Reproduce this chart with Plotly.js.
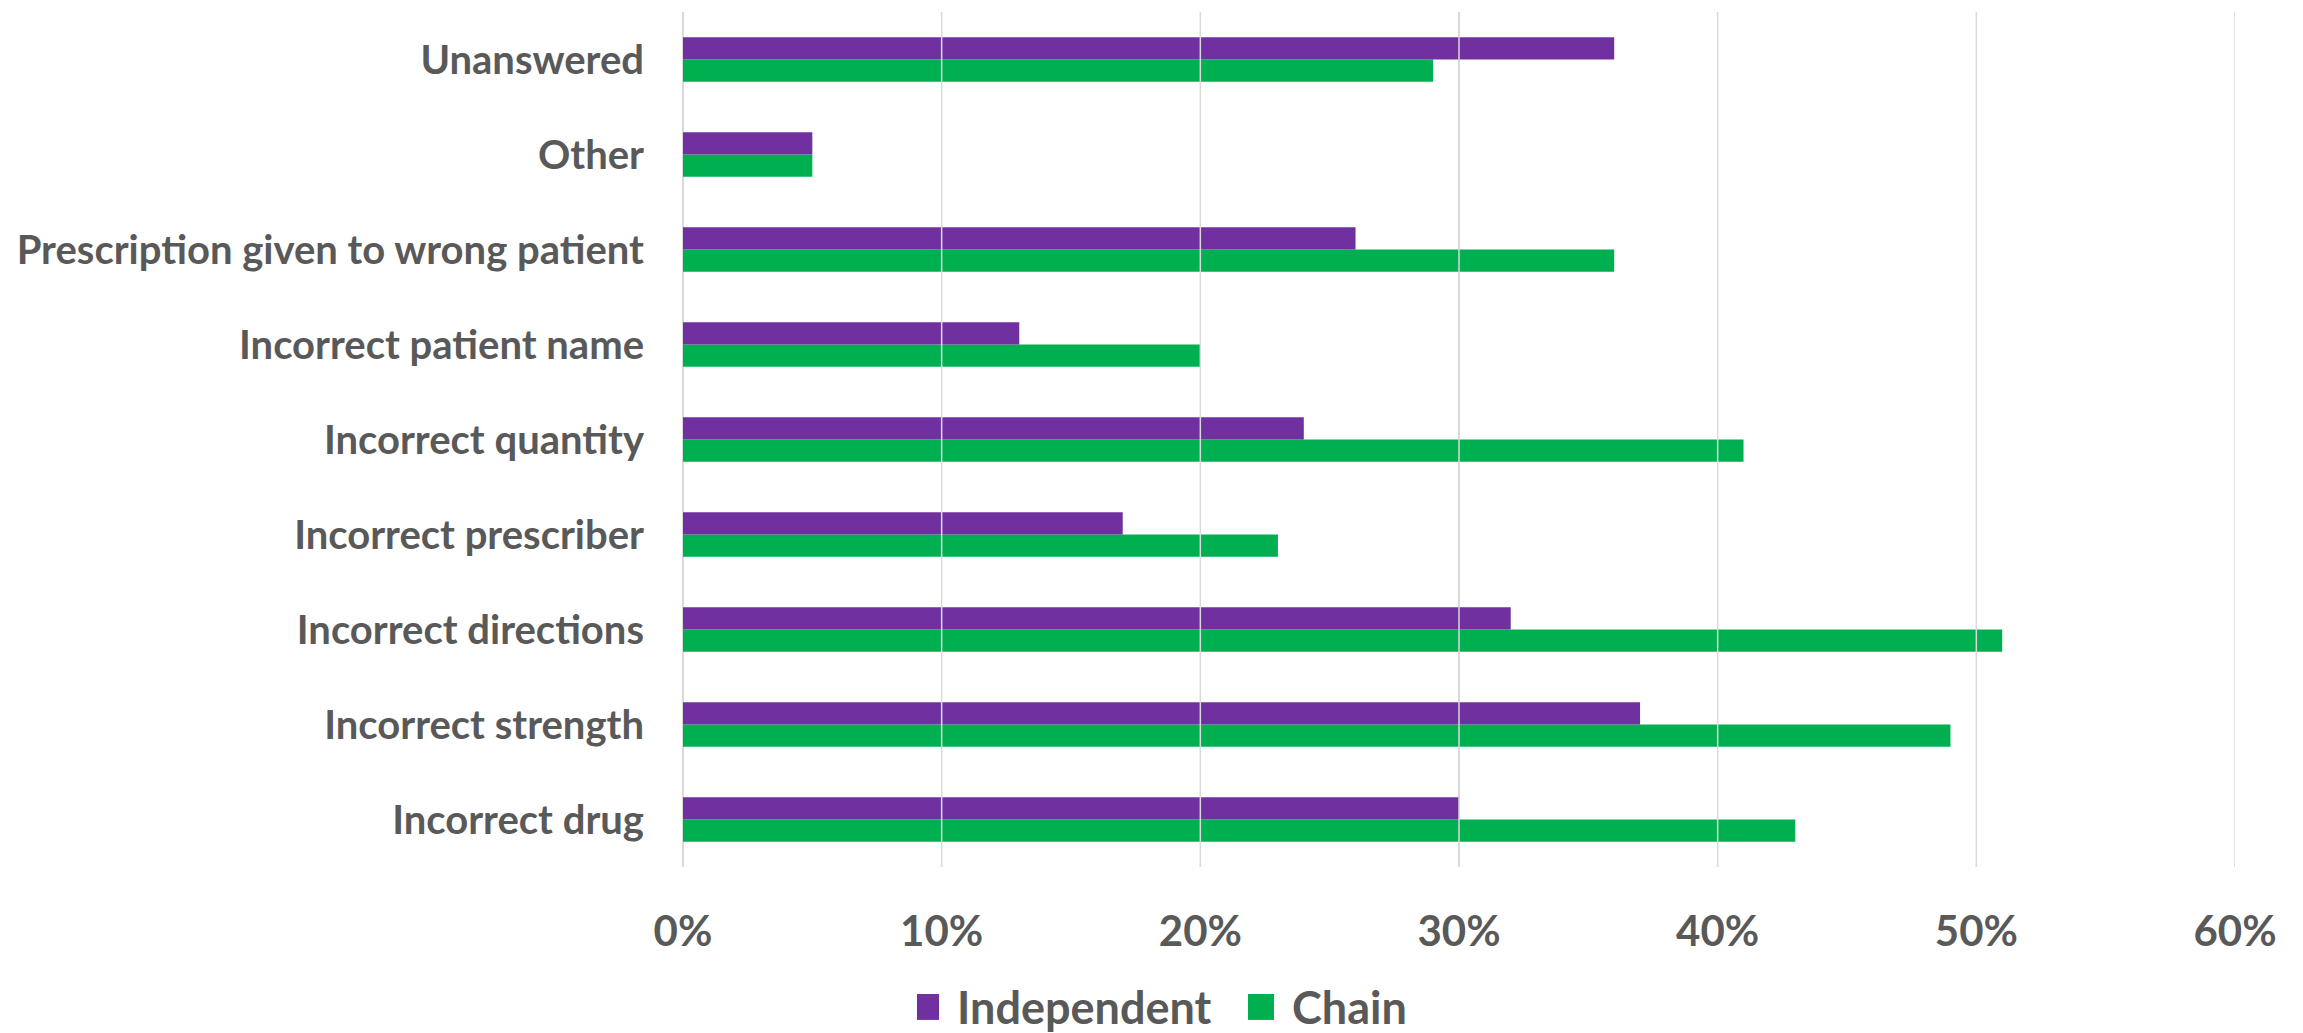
<!DOCTYPE html>
<html>
<head>
<meta charset="utf-8">
<script src="https://cdn.plot.ly/plotly-3.0.1.min.js"></script>
<style>
  html, body { margin: 0; padding: 0; background: #ffffff; }
  #chart { width: 2303px; height: 1033px; }
</style>
</head>
<body>
<div id="chart"></div>
<script>
// Categories, bottom to top as drawn
const categories = [
  "Incorrect drug",
  "Incorrect strength",
  "Incorrect directions",
  "Incorrect prescriber",
  "Incorrect quantity",
  "Incorrect patient name",
  "Prescription given to wrong patient",
  "Other",
  "Unanswered"
];
// Percent values
const independentValues = [30, 37, 32, 17, 24, 13, 26, 5, 36];
const chainValues       = [43, 49, 51, 23, 41, 20, 36, 5, 29];
const tickValues = [0, 10, 20, 30, 40, 50, 60];
const tickLabels = ["0%", "10%", "20%", "30%", "40%", "50%", "60%"];

const textColor = "#595959";
const fontFamily = "Lato, 'Open Sans', 'DejaVu Sans', sans-serif";

const traces = [
  {
    type: "bar", orientation: "h", name: "Chain",
    y: categories, x: chainValues,
    marker: { color: "#00B050" },
    hoverinfo: "x+name"
  },
  {
    type: "bar", orientation: "h", name: "Independent",
    y: categories, x: independentValues,
    marker: { color: "#7030A0" },
    hoverinfo: "x+name"
  }
];

const gridShapes = tickValues.slice(1).map(v => ({
  type: "line", xref: "x", yref: "paper",
  x0: v, x1: v, y0: 0, y1: 1,
  line: { color: "#D9D9D9", width: 1.5 },
  layer: "above"
}));

const layout = {
  width: 2303, height: 1033,
  paper_bgcolor: "#ffffff", plot_bgcolor: "#ffffff",
  margin: { l: 683, r: 68, t: 12, b: 166, pad: 0 },
  barmode: "group",
  bargap: 0.53,
  bargroupgap: 0,
  font: { family: fontFamily, color: textColor, size: 40, weight: "bold" },
  xaxis: {
    range: [0, 60],
    tickvals: tickValues, ticktext: tickLabels,
    showgrid: true, gridcolor: "#D9D9D9", gridwidth: 1.5,
    zeroline: true, zerolinecolor: "#D9D9D9", zerolinewidth: 1.5,
    showline: false, ticks: "",
    tickfont: { family: fontFamily, size: 42, color: textColor, weight: "bold" },
    ticklabelstandoff: 36,
    fixedrange: true
  },
  yaxis: {
    type: "category",
    categoryorder: "array", categoryarray: categories,
    showgrid: false, zeroline: false, showline: false, ticks: "",
    tickfont: { family: fontFamily, size: 40, color: textColor, weight: "bold" },
    ticklabelstandoff: 38,
    fixedrange: true
  },
  showlegend: true,
  legend: {
    orientation: "h",
    traceorder: "reversed",
    xref: "container", yref: "container",
    x: 917 / 2303, xanchor: "left",
    y: 0.025, yanchor: "middle",
    entrywidth: 290, entrywidthmode: "pixels",
    font: { family: fontFamily, size: 45, color: textColor, weight: "bold" },
    bgcolor: "rgba(0,0,0,0)"
  },
  shapes: gridShapes
};

Plotly.newPlot("chart", traces, layout, { displayModeBar: false, staticPlot: true }).then(gd => {
  // enlarge legend swatches to match reference square size
  gd.querySelectorAll(".legendpoints path").forEach(p => {
    p.setAttribute("d", "M2,13H-24V-13H2Z");
  });
});
</script>
</body>
</html>
